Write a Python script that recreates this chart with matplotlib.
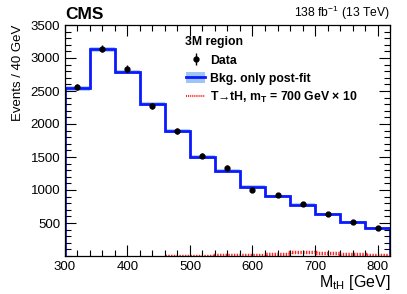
import numpy as np
import matplotlib.pyplot as plt
from matplotlib.ticker import MultipleLocator
from matplotlib.lines import Line2D
from matplotlib.patches import Patch

plt.rcParams['font.family'] = ['Liberation Sans', 'DejaVu Sans']
plt.rcParams['mathtext.fontset'] = 'custom'
plt.rcParams['mathtext.rm'] = 'Liberation Sans'
plt.rcParams['mathtext.it'] = 'Liberation Sans'
plt.rcParams['mathtext.bf'] = 'Liberation Sans:bold'

# binning, 40 GeV bins
bin_edges = np.arange(300, 821, 40)
bin_centers = 0.5 * (bin_edges[:-1] + bin_edges[1:])

bkg = [2540, 3130, 2790, 2310, 1890, 1500, 1290, 1050, 910, 780, 640, 520, 430]
bkg_unc = [35, 40, 35, 30, 28, 25, 22, 20, 18, 16, 14, 12, 12]
data = [2560, 3140, 2840, 2270, 1890, 1520, 1340, 1000, 930, 790, 630, 520, 430]
data_err = [np.sqrt(v) for v in data]

# signal x10, starts in the 460-500 bin
sig_edges = np.arange(460, 821, 40)
signal = [4, 7, 11, 20, 35, 55, 45, 25, 10]

fig = plt.figure(figsize=(4.07, 2.94), dpi=100)
ax = fig.add_axes([65/407, 38/294, 325/407, 231/294])

bkg = np.array(bkg)
bkg_unc = np.array(bkg_unc)
ax.stairs(bkg + bkg_unc, bin_edges, baseline=bkg - bkg_unc, fill=True,
          facecolor='#9ec6f5', edgecolor='none', hatch='....', alpha=0.8)
ax.stairs(bkg, bin_edges, color='#0a1aff', linewidth=2.0)
ax.stairs(signal, sig_edges, color='#ff2020', linewidth=2.5, linestyle=(0, (0.4, 0.4)))
ax.errorbar(bin_centers, data, yerr=data_err, fmt='o', color='black',
            markersize=3.5, elinewidth=1.0, capsize=0)

ax.set_xlim(300, 820)
ax.set_ylim(0, 3500)
ax.xaxis.set_major_locator(MultipleLocator(100))
ax.xaxis.set_minor_locator(MultipleLocator(20))
ax.yaxis.set_minor_locator(MultipleLocator(100))
ax.set_yticks([500, 1000, 1500, 2000, 2500, 3000, 3500])
ax.tick_params(which='both', direction='in', top=True, right=True, labelsize=9.5, width=0.8)
ax.tick_params(which='major', length=8)
ax.tick_params(which='minor', length=4)
for s in ax.spines.values():
    s.set_linewidth(0.9)

ax.set_xlabel('M$_{\\mathregular{tH}}$ [GeV]', fontsize=11.5, loc='right', labelpad=0)
ax.set_ylabel('Events / 40 GeV', fontsize=9.5, loc='top', labelpad=5)

fig.text(65/407, 272/294, 'CMS', fontsize=12.5, fontweight='bold', ha='left', va='bottom')
fig.text(390/407, 272/294, '138 fb$^{\\mathregular{-1}}$ (13 TeV)', fontsize=8.7, ha='right', va='bottom')

ax.text(0.369, 0.926, '3M region', transform=ax.transAxes, fontsize=8.8,
        fontweight='bold', ha='left', va='center')

handles = [
    (Line2D([], [], color='black', marker='|', markersize=9, markeredgewidth=1.0, linestyle='none'),
     Line2D([], [], color='black', marker='o', markersize=3.5, linestyle='none')),
    (Patch(facecolor='#9ec6f5', edgecolor='none', hatch='....'), Line2D([], [], color='#0a1aff', linewidth=2)),
    Line2D([], [], color='#ff2020', linewidth=1.5, linestyle=(0, (0.5, 0.5))),
]
labels = ['Data', 'Bkg. only post-fit',
          'T→tH, m$_{\\mathbf{T}}$ = 700 GeV × 10']
leg = ax.legend(handles, labels, loc='upper left', bbox_to_anchor=(0.372, 0.875), frameon=False,
                prop={'weight': 'bold', 'size': 8.8}, handlelength=1.6, handletextpad=0.4,
                handleheight=1.0, labelspacing=0.45, borderaxespad=0, borderpad=0)
fig.savefig('out.png', dpi=100)
